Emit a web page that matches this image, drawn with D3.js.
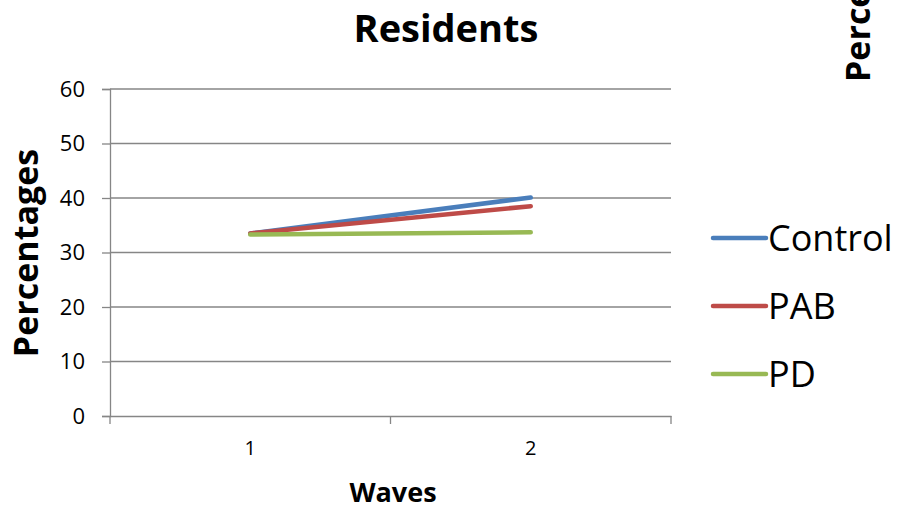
<!DOCTYPE html>
<html><head><meta charset="utf-8">
<script src="https://cdn.jsdelivr.net/npm/d3@7"></script>
<style>body{margin:0;background:#fff}svg{display:block}text{font-family:"Open Sans",sans-serif}</style>
</head><body><svg id="c" width="897" height="512"></svg>
<script>
const categories = ["1", "2"];
const seriesNames = ["Control", "PAB", "PD"];
const control = [33.5, 40.1];
const pab = [33.5, 38.5];
const pd = [33.3, 33.7];
const yTicks = [0, 10, 20, 30, 40, 50, 60];
const colors = ["#4a7ebb", "#be4b48", "#98b954"];
const series = [control, pab, pd];

(function () {
const FONT = "'Open Sans',sans-serif";
const svg = d3.select("#c");
const pL = 110, pR = 671, pT = 89, pB = 416;
const x = d3.scaleBand().domain(categories).range([pL, pR]);
const y = d3.scaleLinear().domain([0, 60]).range([pB, pT]);

// gridlines
svg.append("g").selectAll("line").data(yTicks.filter(d => d > 0)).join("line")
  .attr("x1", pL).attr("x2", pR).attr("y1", d => y(d)).attr("y2", d => y(d))
  .attr("stroke", "#868686").attr("stroke-width", 1.3);

// y axis
const ya = svg.append("g").attr("transform", `translate(${pL},0)`)
  .call(d3.axisLeft(y).tickValues(yTicks).tickSize(8).tickPadding(17));
ya.select(".domain").attr("stroke", "#868686").attr("stroke-width", 1.3);
ya.selectAll(".tick line").attr("stroke", "#868686").attr("stroke-width", 1.3);
ya.selectAll("text").attr("font-size", 22).attr("fill", "#000").style("font-family", FONT);

// x axis
const xa = svg.append("g").attr("transform", `translate(0,${pB})`)
  .call(d3.axisBottom(x).tickSize(0).tickPadding(25));
xa.select(".domain").attr("stroke", "#868686").attr("stroke-width", 1.3);
xa.selectAll("text").attr("font-size", 20).attr("fill", "#000").style("font-family", FONT);
svg.append("g").selectAll("line").data([pL, pL + x.step(), pR]).join("line")
  .attr("x1", d => d).attr("x2", d => d).attr("y1", pB).attr("y2", pB + 8)
  .attr("stroke", "#868686").attr("stroke-width", 1.3);

// lines
const line = d3.line().x((d, i) => x(categories[i]) + x.bandwidth() / 2).y(d => y(d));
svg.append("g").selectAll("path").data(series).join("path")
  .attr("d", d => line(d)).attr("fill", "none")
  .attr("stroke", (d, i) => colors[i]).attr("stroke-width", 4.5).attr("stroke-linecap", "round");

// titles
svg.append("text").attr("x", 446).attr("y", 42).attr("text-anchor", "middle")
  .attr("font-size", 38).attr("font-weight", "bold").text("Residents");
svg.append("text").attr("x", 393).attr("y", 502).attr("text-anchor", "middle")
  .attr("font-size", 27).attr("font-weight", "bold").text("Waves");
svg.append("text").attr("transform", "translate(38,253) rotate(-90)").attr("text-anchor", "middle")
  .attr("font-size", 34).attr("font-weight", "bold").text("Percentages");
svg.append("text").attr("transform", "translate(870,82) rotate(-90)").attr("text-anchor", "start")
  .attr("font-size", 34).attr("font-weight", "bold").text("Percentages");

// legend
const lg = svg.append("g").selectAll("g").data(seriesNames).join("g")
  .attr("transform", (d, i) => `translate(0,${238 + i * 68})`);
lg.append("line").attr("x1", 713).attr("x2", 766).attr("y1", 0).attr("y2", 0)
  .attr("stroke", (d, i) => colors[i]).attr("stroke-width", 4.5).attr("stroke-linecap", "round");
lg.append("text").attr("x", 768).attr("y", 13).attr("font-size", 36).text(d => d);
})();
</script></body></html>
